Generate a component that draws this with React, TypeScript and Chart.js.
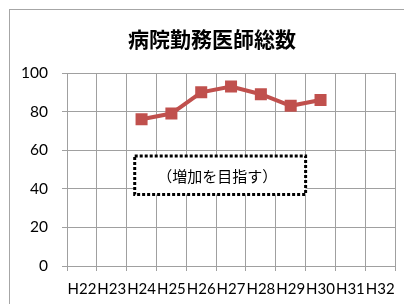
import React, { useEffect, useRef } from "react";
import { Chart, registerables } from "chart.js";

Chart.register(...registerables);

const title = "病院勤務医師総数";
const categories = ["H22", "H23", "H24", "H25", "H26", "H27", "H28", "H29", "H30", "H31", "H32"];
const doctors: (number | null)[] = [null, null, 76, 79, 90, 93, 89, 83, 86, null, null];
const yTicks = { min: 0, max: 100, step: 20 };
const noteText = "（増加を目指す）";
// note box in data units (category index, value)
const noteBox = { x0: 1.77, x1: 7.5, y0: 57, y1: 37 };

const LABEL_FONT = "Lato, 'Liberation Sans', sans-serif";
const CJK_FONT = "'Noto Sans CJK JP', sans-serif";

export default function App() {
  const ref = useRef<HTMLCanvasElement | null>(null);
  useEffect(() => {
    if (!ref.current) return;
    const decor = {
      id: "decor",
      beforeDraw(chart: any) {
        const ctx = chart.ctx;
        ctx.save();
        ctx.fillStyle = "#ffffff";
        ctx.fillRect(0, 0, chart.width, chart.height);
        ctx.strokeStyle = "#a6a6a6";
        ctx.lineWidth = 1;
        ctx.strokeRect(9.5, 9.5, 600, 600);
        ctx.fillStyle = "#000";
        ctx.font = `bold 21px ${CJK_FONT}`;
        ctx.textAlign = "center";
        ctx.textBaseline = "middle";
        ctx.fillText(title, 212, 39);
        ctx.restore();
      },
      afterDraw(chart: any) {
        const ctx = chart.ctx;
        const xs = chart.scales.x;
        const ys = chart.scales.y;
        const l = xs.getPixelForValue(noteBox.x0);
        const r = xs.getPixelForValue(noteBox.x1);
        const t = ys.getPixelForValue(noteBox.y0);
        const b = ys.getPixelForValue(noteBox.y1);
        ctx.save();
        ctx.fillStyle = "#ffffff";
        ctx.fillRect(l, t, r - l, b - t);
        ctx.strokeStyle = "#000";
        ctx.lineWidth = 3;
        ctx.setLineDash([3, 2]);
        ctx.strokeRect(l, t, r - l, b - t);
        ctx.setLineDash([]);
        ctx.fillStyle = "#000";
        ctx.font = `15px ${CJK_FONT}`;
        ctx.textAlign = "center";
        ctx.textBaseline = "middle";
        ctx.fillText(noteText, (l + r) / 2 - 3, (t + b) / 2 + 1);
        ctx.restore();
      },
    };
    const chart = new Chart(ref.current, {
      type: "line",
      data: {
        labels: categories,
        datasets: [
          {
            data: doctors,
            borderColor: "#c0504d",
            backgroundColor: "#c0504d",
            borderWidth: 4,
            pointStyle: "rect",
            pointRadius: 8.5,
            pointHoverRadius: 8.5,
            pointBorderWidth: 0,
            tension: 0,
          },
        ],
      },
      options: {
        responsive: false,
        animation: false,
        layout: { padding: { top: 73, right: 7, left: 0, bottom: 0 } },
        plugins: { legend: { display: false }, title: { display: false }, tooltip: { enabled: false } },
        scales: {
          x: {
            offset: true,
            grid: { offset: true, color: "#a0a0a0", tickLength: 5, drawTicks: true },
            border: { color: "#a0a0a0" },
            ticks: {
              autoSkip: false,
              maxRotation: 0,
              color: "#000",
              padding: 9,
              font: { family: LABEL_FONT, size: 15 },
            },
            afterFit: (s: any) => {
              s.height = 38;
            },
          },
          y: {
            min: yTicks.min,
            max: yTicks.max,
            grid: { color: "#a0a0a0", tickLength: 5 },
            border: { color: "#a0a0a0" },
            ticks: {
              stepSize: yTicks.step,
              color: "#000",
              padding: 14,
              font: { family: LABEL_FONT, size: 15.5 },
            },
            afterFit: (s: any) => {
              s.width = 67;
            },
          },
        },
      },
      plugins: [decor],
    });
    return () => chart.destroy();
  }, []);
  return (
    <div style={{ position: "absolute", left: 0, top: 0, width: 404, height: 304 }}>
      <canvas ref={ref} width={404} height={304} style={{ display: "block" }} />
    </div>
  );
}
